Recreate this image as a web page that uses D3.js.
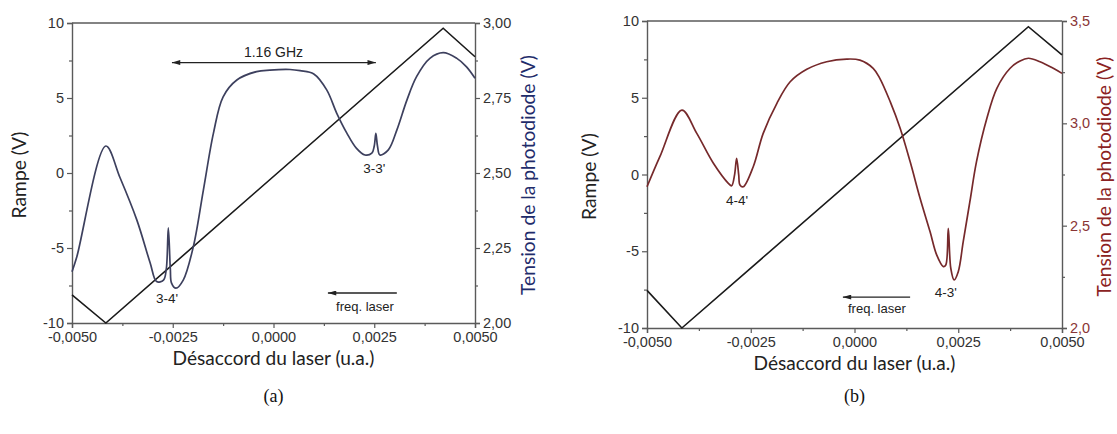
<!DOCTYPE html>
<html>
<head>
<meta charset="utf-8">
<script src="https://cdn.jsdelivr.net/npm/d3@7"></script>
<style>
  body { margin: 0; background: #fff; }
  svg { display: block; }
</style>
</head>
<body>
<svg id="fig" width="1117" height="434"></svg>
<script>
// detuning ticks, shared by both panels
const xTicks = [-0.005, -0.0025, 0, 0.0025, 0.005]
const xMinor = [-0.00375, -0.00125, 0.00125, 0.00375]
const rampTicks = [-10, -5, 0, 5, 10]
const rampMinor = [-7.5, -2.5, 2.5, 7.5]

// panel (a) : right axis 2,00 .. 3,00
const diodeTicksA = [2, 2.25, 2.5, 2.75, 3]
const diodeMinorA = [2.125, 2.375, 2.625, 2.875]
const rampA = [[-0.005, -8.13], [-0.00416, -10], [0.00421, 9.65], [0.005, 7.75]]
const diodeA = [
  [-0.005, 2.171], [-0.00488, 2.221], [-0.00416, 2.590], [-0.00381, 2.485],
  [-0.00339, 2.343], [-0.00306, 2.200], [-0.00290, 2.138], [-0.00273, 2.143],
  [-0.00266, 2.180], [-0.00261, 2.317], [-0.00256, 2.180], [-0.00253, 2.133],
  [-0.00242, 2.116], [-0.00224, 2.143], [-0.00199, 2.254], [-0.00174, 2.443],
  [-0.00149, 2.633], [-0.00125, 2.754], [-0.00091, 2.810], [-0.00042, 2.838],
  [-0.00009, 2.843], [0.00041, 2.845], [0.00066, 2.841], [0.00100, 2.830],
  [0.00132, 2.777], [0.00157, 2.699], [0.00182, 2.633], [0.00206, 2.582],
  [0.00227, 2.560], [0.00244, 2.566], [0.00250, 2.590], [0.00254, 2.632],
  [0.00258, 2.590], [0.00264, 2.560], [0.00285, 2.577], [0.00306, 2.643],
  [0.00331, 2.743], [0.00355, 2.821], [0.00388, 2.882], [0.00421, 2.901],
  [0.00455, 2.882], [0.00479, 2.854], [0.005, 2.816]
]

// panel (b) : right axis 2,0 .. 3,5
const diodeTicksB = [2, 2.5, 3, 3.5]
const diodeMinorB = [2.25, 2.75, 3.25]
const rampB = [[-0.005, -7.55], [-0.00416, -10], [0.00419, 9.63], [0.005, 7.8]]
const diodeB = [
  [-0.005, 2.690], [-0.00469, 2.837], [-0.00416, 3.065], [-0.00380, 2.951],
  [-0.00340, 2.805], [-0.00304, 2.707], [-0.00296, 2.695], [-0.00289, 2.748],
  [-0.00284, 2.829], [-0.00279, 2.748], [-0.00276, 2.699], [-0.00268, 2.690],
  [-0.00244, 2.788], [-0.00220, 2.951], [-0.00187, 3.098], [-0.00155, 3.203],
  [-0.00115, 3.264], [-0.00067, 3.301], [-0.00019, 3.314], [0.00013, 3.309],
  [0.00045, 3.269], [0.00061, 3.220], [0.00086, 3.106], [0.00110, 2.976],
  [0.00134, 2.813], [0.00158, 2.634], [0.00182, 2.471], [0.00198, 2.357],
  [0.00214, 2.300], [0.00220, 2.308], [0.00226, 2.487], [0.00232, 2.292],
  [0.00240, 2.235], [0.00250, 2.275], [0.00262, 2.422], [0.00278, 2.617],
  [0.00294, 2.813], [0.00319, 3.025], [0.00343, 3.171], [0.00375, 3.269],
  [0.00399, 3.305], [0.00419, 3.318], [0.00447, 3.301], [0.00479, 3.269],
  [0.005, 3.244]
]

const axisColor = "#5a5a5a"
const tickFont = '"Liberation Sans", Arial, sans-serif'
const titleFont = 'Lato, "Open Sans", sans-serif'

const svg = d3.select("#fig")

const defs = svg.append("defs")
defs.append("marker")
  .attr("id", "head")
  .attr("viewBox", "0 0 10 6")
  .attr("refX", 10).attr("refY", 3)
  .attr("markerWidth", 9).attr("markerHeight", 5)
  .attr("markerUnits", "userSpaceOnUse")
  .attr("orient", "auto-start-reverse")
  .append("path")
  .attr("d", "M0,0 L10,3 L0,6 Z")
  .attr("fill", "#222")

const comma = s => s.replace(".", ",").replace("\u2212", "-")

function styleAxis(sel, color) {
  sel.select(".domain").attr("stroke", axisColor).attr("stroke-width", 1.4)
  sel.selectAll(".tick line").attr("stroke", axisColor).attr("stroke-width", 1.2)
  sel.selectAll(".tick text")
    .attr("fill", color || "#333")
    .style("font-family", tickFont)
    .style("font-size", "14.5px")
}

function minorAxis(g, axis, transform) {
  g.append("g")
    .attr("transform", transform)
    .call(axis.tickSize(3).tickFormat(""))
    .call(s => s.select(".domain").remove())
    .call(s => s.selectAll(".tick line").attr("stroke", axisColor).attr("stroke-width", 1.2))
}

// shrink or grow a title so that it spans the wanted length
function fitText(sel, len) {
  const w = sel.node().getComputedTextLength()
  const fs = parseFloat(sel.style("font-size"))
  sel.style("font-size", (fs * len / w).toFixed(2) + "px")
}

function drawPanel(p) {
  const g = svg.append("g")

  const x = d3.scaleLinear().domain([-0.005, 0.005]).range([p.left, p.right])
  const yL = d3.scaleLinear().domain([-10, 10]).range([p.bottom, p.top])
  const yR = d3.scaleLinear().domain(p.rightDomain).range([p.bottom, p.top])

  // top border of the frame
  g.append("line")
    .attr("x1", p.left).attr("x2", p.right)
    .attr("y1", p.top).attr("y2", p.top)
    .attr("stroke", axisColor).attr("stroke-width", 1.4)

  g.append("g")
    .attr("transform", `translate(0,${p.bottom})`)
    .call(d3.axisBottom(x).tickValues(xTicks).tickFormat(v => comma(d3.format(".4f")(v))).tickSize(5).tickPadding(4))
    .call(s => styleAxis(s))
  minorAxis(g, d3.axisBottom(x).tickValues(xMinor), `translate(0,${p.bottom})`)

  g.append("g")
    .attr("transform", `translate(${p.left},0)`)
    .call(d3.axisLeft(yL).tickValues(rampTicks).tickFormat(v => comma(d3.format("d")(v))).tickSize(5).tickPadding(3))
    .call(s => styleAxis(s))
  minorAxis(g, d3.axisLeft(yL).tickValues(rampMinor), `translate(${p.left},0)`)

  g.append("g")
    .attr("transform", `translate(${p.right},0)`)
    .call(d3.axisRight(yR).tickValues(p.rightTicks)
      .tickFormat(v => comma(d3.format(p.rightFmt)(v))).tickSize(5).tickPadding(3))
    .call(s => styleAxis(s, p.rightTickColor))
  minorAxis(g, d3.axisRight(yR).tickValues(p.rightMinor), `translate(${p.right},0)`)

  // ramp (left axis)
  g.append("path")
    .datum(p.ramp)
    .attr("fill", "none")
    .attr("stroke", "#1a1a1a")
    .attr("stroke-width", 1.6)
    .attr("d", d3.line().x(d => x(d[0])).y(d => yL(d[1])))

  // photodiode signal (right axis)
  g.append("path")
    .datum(p.diode)
    .attr("fill", "none")
    .attr("stroke", p.diodeColor)
    .attr("stroke-width", 1.7)
    .attr("stroke-linejoin", "round")
    .attr("d", d3.line().curve(d3.curveCatmullRom.alpha(0.5)).x(d => x(d[0])).y(d => yR(d[1])))

  // axis titles
  const cx = (p.left + p.right) / 2
  const mid = (p.top + p.bottom) / 2
  g.append("text")
    .attr("x", cx).attr("y", p.bottom + 42)
    .attr("text-anchor", "middle")
    .style("font-family", titleFont).style("font-size", "17px")
    .attr("fill", "#222")
    .text("Désaccord du laser (u.a.)")
    .call(fitText, 202)

  g.append("text")
    .attr("transform", `translate(${p.left - p.leftTitleGap},${mid + 2}) rotate(-90)`)
    .attr("text-anchor", "middle")
    .style("font-family", titleFont).style("font-size", "17px")
    .attr("fill", "#222")
    .text("Rampe (V)")
    .call(fitText, 87)

  g.append("text")
    .attr("transform", `translate(${p.right + p.rightTitleGap},${mid + 2}) rotate(-90)`)
    .attr("text-anchor", "middle")
    .style("font-family", titleFont).style("font-size", "17px")
    .attr("fill", p.titleColor)
    .text("Tension de la photodiode (V)")
    .call(fitText, 240)

  g.append("text")
    .attr("x", cx).attr("y", 402)
    .attr("text-anchor", "middle")
    .style("font-family", '"Liberation Serif", "Times New Roman", serif').style("font-size", "18px")
    .attr("fill", "#111")
    .text(p.caption)

  // annotations
  p.labels.forEach(l => {
    g.append("text")
      .attr("x", x(l.x)).attr("y", yR(l.y))
      .attr("text-anchor", "middle")
      .style("font-family", tickFont).style("font-size", l.size + "px")
      .attr("fill", "#222")
      .text(l.text)
  })

  p.arrows.forEach(a => {
    const line = g.append("line")
      .attr("x1", x(a.x1)).attr("x2", x(a.x2))
      .attr("y1", yR(a.y)).attr("y2", yR(a.y))
      .attr("stroke", "#222").attr("stroke-width", 1.4)
      .attr("marker-start", "url(#head)")
    if (a.both) line.attr("marker-end", "url(#head)")
  })
}

drawPanel({
  left: 72, right: 475, top: 23, bottom: 323, leftTitleGap: 46, rightTitleGap: 60,
  rightDomain: [2, 3], rightTicks: diodeTicksA, rightMinor: diodeMinorA, rightFmt: ".2f",
  rightTickColor: "#333", titleColor: "#1f2c6b", diodeColor: "#3d405e",
  ramp: rampA, diode: diodeA, caption: "(a)",
  labels: [
    {text: "3-4'", x: -0.00264, y: 2.067, size: 13.5},
    {text: "3-3'", x: 0.0025, y: 2.5, size: 13.5},
    {text: "1.16 GHz", x: 0.0, y: 2.887, size: 14},
    {text: "freq. laser", x: 0.00227, y: 2.04, size: 13}
  ],
  arrows: [
    {x1: -0.00252, x2: 0.00254, y: 2.868, both: true},
    {x1: 0.00135, x2: 0.00306, y: 2.10, both: false}
  ]
})

drawPanel({
  left: 647, right: 1062, top: 21, bottom: 328, leftTitleGap: 51, rightTitleGap: 49,
  rightDomain: [2, 3.5], rightTicks: diodeTicksB, rightMinor: diodeMinorB, rightFmt: ".1f",
  rightTickColor: "#8a3535", titleColor: "#8b2222", diodeColor: "#76292b",
  ramp: rampB, diode: diodeB, caption: "(b)",
  labels: [
    {text: "4-4'", x: -0.00283, y: 2.601, size: 13.5},
    {text: "4-3'", x: 0.0022, y: 2.151, size: 13.5},
    {text: "freq. laser", x: 0.00054, y: 2.073, size: 13}
  ],
  arrows: [
    {x1: -0.00028, x2: 0.00134, y: 2.151, both: false}
  ]
})
</script>
</body>
</html>
